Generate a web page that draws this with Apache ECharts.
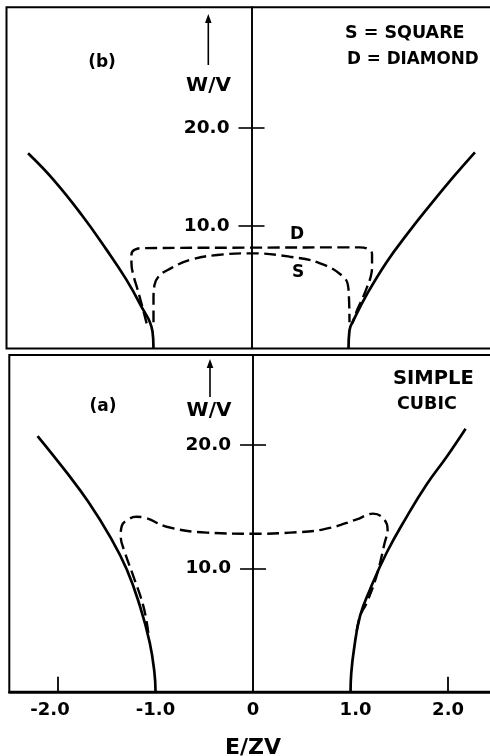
<!DOCTYPE html>
<html>
<head>
<meta charset="utf-8">
<script src="https://cdn.jsdelivr.net/npm/echarts@6/dist/echarts.min.js"></script>
<style>
  html, body { margin: 0; padding: 0; background: #fff; }
  #chart { width: 490px; height: 756px; }
</style>
</head>
<body>
<div id="chart"></div>
<script>
// Mobility-edge trajectories, W/V against E/ZV.
// Panel (b): square (S) and diamond (D) lattices; panel (a): simple cubic.

// panel (b) band-edge curves (solid)
const bEdgeLeft = [[-2.28, 17.4], [-2.02, 14.7], [-1.73, 11.1], [-1.48, 7.6], [-1.28, 4.6], [-1.14, 2.1], [-1.01, -0.75], [-1.0, -2.46]];
const bEdgeRight = [[0.99, -2.46], [1.0, -0.6], [1.04, 0.4], [1.18, 3.1], [1.38, 6.35], [1.59, 9.2], [1.82, 12.1], [2.06, 15.0], [2.28, 17.5]];
// panel (b) mobility edges (dashed)
const bDiamond = [[-1.07, 0.1], [-1.12, 2.0], [-1.17, 3.8], [-1.2, 4.8], [-1.225, 6.2], [-1.225, 7.1], [-1.19, 7.6], [-1.1, 7.75], [0, 7.8], [1.1, 7.83], [1.19, 7.65], [1.23, 7.15], [1.23, 6.0], [1.22, 5.0], [1.18, 3.8], [1.14, 2.8], [1.08, 1.5], [1.03, 0.1]];
const bSquare = [[-1.0, 0.2], [-1.0, 2.47], [-0.99, 4.0], [-0.95, 4.84], [-0.86, 5.5], [-0.63, 6.54], [-0.35, 7.05], [0, 7.22], [0.39, 6.88], [0.70, 6.2], [0.94, 4.8], [0.99, 3.5], [1.0, 0.2]];

// panel (a) band-edge curves (solid)
const aEdgeLeft = [[-2.21, 20.73], [-1.91, 17.76], [-1.69, 15.4], [-1.47, 12.62], [-1.295, 9.92], [-1.16, 6.94], [-1.06, 4.0], [-1.012, 1.6], [-1.0, 0]];
const aEdgeRight = [[1.0, 0], [1.007, 1.5], [1.035, 3.43], [1.097, 6.13], [1.2, 8.3], [1.37, 11.27], [1.58, 14.24], [1.78, 16.8], [1.99, 19.1], [2.18, 21.33]];
// panel (a) mobility edge (dashed)
const aCubic = [[-1.074, 4.78], [-1.125, 6.94], [-1.228, 9.38], [-1.313, 11.27], [-1.357, 12.62], [-1.347, 13.43], [-1.279, 13.97], [-1.2, 14.19], [-1.108, 14.11], [-0.885, 13.38], [-0.475, 12.9], [0, 12.81], [0.38, 12.9], [0.72, 13.16], [1.064, 13.97], [1.16, 14.3], [1.23, 14.44], [1.336, 14.05], [1.38, 13.16], [1.35, 12.08], [1.266, 9.38], [1.166, 7.22], [1.097, 6.13], [1.056, 4.5]];

// tick values
const yTickValues = [10, 20];
const xLabelValues = [-2, -1, 0, 1, 2];
const xTickValues = [-2, 2];

// axis ranges
const xRange = [-2.5, 2.5];
const bRange = [-2.46, 32.25];
const aRange = [0, 27.3];

const FONT = '"DejaVu Sans", sans-serif';
const INK = '#000';

// panel frames in pixels
const frames = [
  { left: 6.5, top: 7.3, width: 490, height: 341.2 },
  { left: 9.3, top: 355, width: 487.5, height: 336.8 }
];

const chart = echarts.init(document.getElementById('chart'), null, { renderer: 'canvas' });

// the W/V axis sits at E = 0, i.e. half a frame width in from either side
function yPair(gridIndex, range) {
  const shift = -frames[gridIndex].width / 2;
  const base = {
    type: 'value', gridIndex, min: range[0], max: range[1], offset: shift,
    splitLine: { show: false },
    axisLine: { show: true, onZero: false, lineStyle: { color: INK, width: 1.6 } }
  };
  return [
    Object.assign({}, base, {
      position: 'left',
      axisTick: { show: true, customValues: yTickValues, length: 13, lineStyle: { color: INK, width: 1.6 } },
      axisLabel: {
        show: true, customValues: yTickValues, margin: 22,
        formatter: v => Number(v).toFixed(1),
        color: INK, fontFamily: FONT, fontWeight: 'bold', fontSize: 18.5
      }
    }),
    Object.assign({}, base, {
      position: 'right',
      axisTick: { show: true, customValues: yTickValues, length: 13, lineStyle: { color: INK, width: 1.6 } },
      axisLabel: { show: false }
    })
  ];
}

function curve(data, panel, dashed) {
  return {
    type: 'line', xAxisIndex: panel, yAxisIndex: panel * 2, data,
    symbol: 'none', smooth: 0.45, silent: true, z: dashed ? 4 : 3,
    lineStyle: { color: INK, width: dashed ? 2.4 : 2.7, type: dashed ? [12, 5.5] : 'solid', cap: 'butt' }
  };
}

function txt(text, x, y, size, align) {
  return {
    type: 'text', x, y, silent: true,
    style: {
      text, fill: INK, font: 'bold ' + size + 'px ' + FONT,
      textAlign: align || 'center', align: align || 'center',
      textVerticalAlign: 'middle', verticalAlign: 'middle'
    }
  };
}

function arrow(x, yTop, yBottom) {
  return [
    { type: 'line', silent: true, shape: { x1: x, y1: yTop + 6, x2: x, y2: yBottom }, style: { stroke: INK, lineWidth: 1.6 } },
    { type: 'polygon', silent: true, shape: { points: [[x, yTop], [x - 3.3, yTop + 9], [x + 3.3, yTop + 9]] }, style: { fill: INK } }
  ];
}

// hand-lettered E/ZV labels sit a little off their ticks
function xLabel(v) {
  const n = Number(v);
  const s = n === 0 ? '0' : n.toFixed(1);
  if (n === -2) return '{l|' + s + '}';
  if (n === 1) return '{r|' + s + '}';
  return s;
}
const xLabelFont = { color: INK, fontFamily: FONT, fontWeight: 'bold', fontSize: 18 };

chart.setOption({
  animation: false,
  backgroundColor: '#fff',
  grid: frames.map(f => Object.assign({}, f, {
    show: true, borderColor: INK, borderWidth: 2, backgroundColor: 'transparent',
    containLabel: false, outerBoundsMode: 'none'
  })),
  xAxis: [
    {
      type: 'value', gridIndex: 0, min: xRange[0], max: xRange[1],
      axisLine: { show: false }, axisTick: { show: false }, axisLabel: { show: false }, splitLine: { show: false }
    },
    {
      type: 'value', gridIndex: 1, min: xRange[0], max: xRange[1],
      name: 'E/ZV', nameLocation: 'middle', nameGap: 45,
      nameTextStyle: { color: INK, fontFamily: FONT, fontWeight: 'bold', fontSize: 22 },
      axisLine: { show: true, onZero: false, lineStyle: { color: INK, width: 2.6 } },
      axisTick: { show: true, inside: true, customValues: xTickValues, length: 15, lineStyle: { color: INK, width: 1.8 } },
      axisLabel: Object.assign({
        show: true, customValues: xLabelValues, margin: 10,
        formatter: xLabel,
        rich: {
          l: Object.assign({ padding: [0, 16, 0, 0] }, xLabelFont),
          r: Object.assign({ padding: [0, 0, 0, 10] }, xLabelFont)
        }
      }, xLabelFont),
      splitLine: { show: false }
    }
  ],
  yAxis: [].concat(yPair(0, bRange), yPair(1, aRange)),
  series: [
    curve(bEdgeLeft, 0, false),
    curve(bEdgeRight, 0, false),
    curve(bDiamond, 0, true),
    curve(bSquare, 0, true),
    curve(aEdgeLeft, 1, false),
    curve(aEdgeRight, 1, false),
    curve(aCubic, 1, true)
  ],
  graphic: [].concat(
    [
      txt('(b)', 102, 63, 17),
      txt('W/V', 208.5, 86, 20),
      txt('S = SQUARE', 345, 33, 17.5, 'left'),
      txt('D = DIAMOND', 347, 60, 16.8, 'left'),
      txt('D', 297, 235, 17),
      txt('S', 298, 273, 17),
      txt('(a)', 103, 407, 17),
      txt('W/V', 209, 411, 20),
      txt('SIMPLE', 393, 379, 19.5, 'left'),
      txt('CUBIC', 397, 404, 17.5, 'left')
    ],
    arrow(208.3, 14, 65),
    arrow(210, 359, 397)
  )
});
</script>
</body>
</html>
